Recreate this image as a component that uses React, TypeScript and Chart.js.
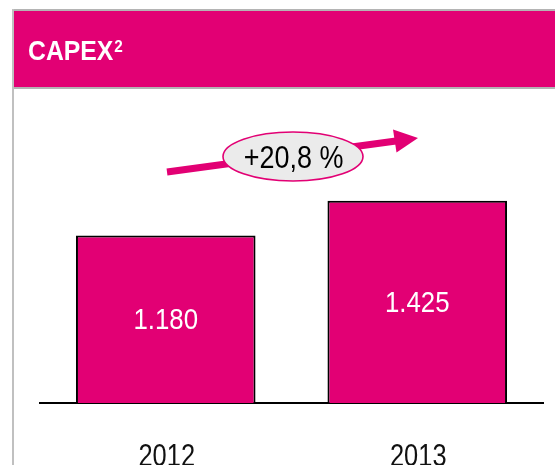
import React, { useEffect, useRef } from "react";
import { Chart, registerables } from "chart.js";

Chart.register(...registerables);

const categories = ["2012", "2013"];
const capexValues = [1180, 1425];
const valueLabels = ["1.180", "1.425"];
const growthLabel = "+20,8 %";
const titleText = "CAPEX";
const titleSup = "2";

const MAGENTA = "#E20074";
const GREY = "#b4b4b4";
const FONT = "'Liberation Sans', Arial, sans-serif";

function drawNarrow(
  ctx: CanvasRenderingContext2D,
  text: string,
  x: number,
  y: number,
  size: number,
  squeeze: number,
  opts: { bold?: boolean; align?: CanvasTextAlign; baseline?: CanvasTextBaseline; color: string }
) {
  ctx.save();
  ctx.font = `${opts.bold ? "bold " : ""}${size}px ${FONT}`;
  ctx.textAlign = opts.align || "left";
  ctx.textBaseline = opts.baseline || "alphabetic";
  ctx.fillStyle = opts.color;
  ctx.translate(x, y);
  ctx.scale(squeeze, 1);
  ctx.fillText(text, 0, 0);
  const w = ctx.measureText(text).width * squeeze;
  ctx.restore();
  return w;
}

const decorPlugin = {
  id: "decor",
  beforeDraw(chart: any) {
    const ctx = chart.ctx;
    const w = chart.width;
    const h = chart.height;
    ctx.save();
    ctx.fillStyle = "#ffffff";
    ctx.fillRect(0, 0, w, h);
    // header band
    ctx.fillStyle = GREY;
    ctx.fillRect(12, 9, w - 12, 2);
    ctx.fillStyle = MAGENTA;
    ctx.fillRect(13, 11, w - 13, 76);
    ctx.fillStyle = GREY;
    ctx.fillRect(12, 87, w - 12, 2);
    // left border
    ctx.fillStyle = "#c0c0c0";
    ctx.fillRect(12, 9, 2, h - 9);
    ctx.restore();
    // title
    const tw = drawNarrow(ctx, titleText, 28, 60, 28, 0.885, { bold: true, color: "#ffffff" });
    drawNarrow(ctx, titleSup, 28 + tw + 1, 52, 17, 0.9, { bold: true, color: "#ffffff" });
  },
  afterDatasetsDraw(chart: any) {
    const ctx = chart.ctx;
    const meta = chart.getDatasetMeta(0);
    // value labels inside bars
    meta.data.forEach((bar: any, i: number) => {
      const cy = (bar.y + bar.base) / 2 + 2;
      drawNarrow(ctx, valueLabels[i], bar.x, cy, 30, 0.86, {
        align: "center",
        baseline: "middle",
        color: "#ffffff",
      });
    });

    // category labels (from the x scale)
    const xs = chart.scales.x;
    xs.ticks.forEach((t: any, i: number) => {
      const px = xs.getPixelForTick(i);
      const lbl = xs.getLabelForValue(t.value);
      drawNarrow(ctx, String(lbl), px + 1, 466, 31, 0.82, { align: "center", color: "#111111" });
    });

    ctx.save();
    // growth arrow
    const sx = 167, sy = 172, ex = 396, ey = 141;
    ctx.strokeStyle = MAGENTA;
    ctx.lineWidth = 7;
    ctx.lineCap = "butt";
    ctx.beginPath();
    ctx.moveTo(sx, sy);
    ctx.lineTo(ex, ey);
    ctx.stroke();
    ctx.fillStyle = MAGENTA;
    ctx.beginPath();
    ctx.moveTo(418, 138);
    ctx.lineTo(393, 129.5);
    ctx.lineTo(396.5, 152.5);
    ctx.closePath();
    ctx.fill();

    // ellipse with growth label
    ctx.beginPath();
    ctx.ellipse(293, 156.5, 70, 24.5, 0, 0, Math.PI * 2);
    ctx.fillStyle = "#ebebeb";
    ctx.fill();
    ctx.lineWidth = 1.6;
    ctx.strokeStyle = MAGENTA;
    ctx.stroke();
    ctx.restore();
    drawNarrow(ctx, growthLabel, 293.5, 167.5, 31, 0.87, { align: "center", color: "#000000" });
  },
};

export default function App() {
  const canvasRef = useRef<HTMLCanvasElement | null>(null);

  useEffect(() => {
    if (!canvasRef.current) return;
    const chart = new Chart(canvasRef.current, {
      type: "bar",
      data: {
        labels: categories,
        datasets: [
          {
            data: capexValues,
            backgroundColor: MAGENTA,
            borderColor: "#000000",
            borderWidth: 2,
            borderSkipped: "bottom",
            barPercentage: 0.714,
            categoryPercentage: 1,
          },
        ],
      },
      options: {
        animation: false,
        responsive: false,
        devicePixelRatio: 1,
        layout: { padding: { top: 119, left: 40, right: 12, bottom: 0 } },
        plugins: {
          legend: { display: false },
          tooltip: { enabled: false },
          title: { display: false },
        },
        scales: {
          x: {
            grid: { display: false, drawTicks: false },
            border: { display: true, color: "#000000", width: 2 },
            ticks: { display: false },
            afterFit: (scale: any) => {
              scale.height = 62;
            },
          },
          y: {
            display: false,
            min: 0,
            max: 2000,
          },
        },
      },
      plugins: [decorPlugin],
    });
    return () => chart.destroy();
  }, []);

  return (
    <div
      style={{
        position: "fixed",
        left: 0,
        top: 0,
        width: 555,
        height: 465,
        overflow: "hidden",
        background: "#ffffff",
      }}
    >
      <canvas ref={canvasRef} width={555} height={465} style={{ width: 555, height: 465, display: "block" }} />
    </div>
  );
}
